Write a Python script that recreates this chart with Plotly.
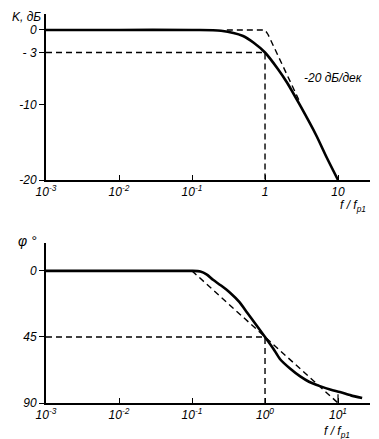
import plotly.graph_objects as go

# ---- data ----
mag_f = [0.001, 0.01, 0.1, 0.25, 0.5, 0.7, 1.0, 1.5, 2.0, 3.0, 5.0, 7.0, 10.0]
mag_db = [0, 0, 0, -0.1, -0.8, -1.7, -3.0, -5.2, -7.0, -10.0, -14.0, -17.0, -20.0]
mag_asym_f = [0.3, 1.0, 1.1, 2.9]
mag_asym_db = [0, 0, -0.6, -9.3]
mag_ref_level = -3
mag_ticks = [0, -3, -10, -20]
mag_ticktext = ["0", "- 3", "-10", "-20"]

ph_f = [0.001, 0.01, 0.05, 0.1, 0.13, 0.16, 0.194, 0.25, 0.332, 0.45, 0.567, 0.75, 1.0,
        1.3, 1.6, 2.2, 3.0, 4.0, 5.66, 8.0, 10.6, 15.0, 21.4]
ph_deg = [0, 0, 0, 0, 0.4, 2.5, 6.1, 10.0, 14.9, 21.5, 28.4, 36.5, 45,
          53.0, 60, 66.5, 71.7, 75.5, 78.5, 81.0, 82.5, 84.8, 86.6]
ph_asym_f = [0.1, 10]
ph_asym_deg = [0, 90]
ph_ref_level = 45
ph_ticks = [0, 45, 90]
ph_ticktext = ["0", "45", "90"]

f_ticks = [0.001, 0.01, 0.1, 1, 10]
f_ticktext_top = ["10<sup>-3</sup>", "10<sup>-2</sup>", "10<sup>-1</sup>", "1", "10"]
f_ticktext_bot = ["10<sup>-3</sup>", "10<sup>-2</sup>", "10<sup>-1</sup>", "10<sup>0</sup>", "10<sup>1</sup>"]

FONT = dict(family="Liberation Sans", size=12, color="black", style="italic")
SOLID = dict(color="black", width=2.6)
DASH = dict(color="black", width=1.4, dash="6px,4px")

fig = go.Figure()

# top panel
fig.add_trace(go.Scatter(x=mag_f, y=mag_db, mode="lines",
                         line=dict(SOLID, shape="spline", smoothing=0.8), xaxis="x", yaxis="y"))
fig.add_trace(go.Scatter(x=mag_asym_f, y=mag_asym_db, mode="lines", line=DASH,
                         xaxis="x", yaxis="y"))
fig.add_trace(go.Scatter(x=[f_ticks[0], 1, 1], y=[mag_ref_level, mag_ref_level, mag_ticks[-1]],
                         mode="lines", line=DASH, xaxis="x", yaxis="y"))

# bottom panel
fig.add_trace(go.Scatter(x=ph_f, y=ph_deg, mode="lines",
                         line=dict(SOLID, shape="spline", smoothing=0.6), xaxis="x2", yaxis="y2"))
fig.add_trace(go.Scatter(x=ph_asym_f, y=ph_asym_deg, mode="lines", line=DASH,
                         xaxis="x2", yaxis="y2"))
fig.add_trace(go.Scatter(x=[f_ticks[0], 1, 1], y=[ph_ref_level, ph_ref_level, ph_ticks[-1]],
                         mode="lines", line=DASH, xaxis="x2", yaxis="y2"))
fig.add_trace(go.Scatter(x=[10, 10], y=[84, 90], mode="lines",
                         line=dict(color="black", width=1.2), xaxis="x2", yaxis="y2"))

# page has an 8px body margin: work in page pixels, shift by OFF
OFF = 8
W, Hf = 379 - OFF, 439 - OFF
PL, PR, PT, PB = 46, 370, 14, 403   # plot area in page pixels
L, R, T, B = PL - OFF, W - (PR - OFF), PT - OFF, Hf - (PB - OFF)
PH = PB - PT
PW = PR - PL

def py(p):
    return (PB - p) / PH

def px(p):
    return (p - PL) / PW

axis_common = dict(showline=True, linecolor="black", linewidth=2, showgrid=False,
                   zeroline=False, tickfont=FONT, tickcolor="black")

fig.update_layout(
    width=W, height=Hf,
    margin=dict(l=L, r=R, t=T, b=B),
    paper_bgcolor="white", plot_bgcolor="white",
    showlegend=False,
    xaxis=dict(axis_common, type="log", range=[-3, 1.438], domain=[0, 1], anchor="y",
               tickvals=f_ticks, ticktext=f_ticktext_top, ticks="inside", ticklen=5, tickwidth=1.2),
    yaxis=dict(axis_common, range=[-20, 2.13], domain=[py(180), 1], anchor="x",
               tickvals=mag_ticks, ticktext=mag_ticktext, ticks="outside", ticklen=5, tickwidth=1.2),
    xaxis2=dict(axis_common, type="log", range=[-3, 1.438], domain=[0, 1], anchor="y2",
                tickvals=f_ticks, ticktext=f_ticktext_bot, ticks="inside", ticklen=5, tickwidth=1.2),
    yaxis2=dict(axis_common, range=[90, -19], domain=[0, py(243)], anchor="x2",
                tickvals=ph_ticks, ticktext=ph_ticktext, ticks="outside", ticklen=5, tickwidth=1.2),
)

fig.add_annotation(x=px(10), y=py(OFF), xref="paper", yref="paper", text="K, дБ",
                   showarrow=False, xanchor="left", yanchor="top", font=FONT)
fig.add_annotation(x=px(16), y=py(241), xref="paper", yref="paper", text="φ °",
                   showarrow=False, xanchor="left", yanchor="middle", font=dict(FONT, size=14))
fig.add_annotation(x=0.507, y=-6.4, xref="x", yref="y", text="-20 дБ/дек",
                   showarrow=False, xanchor="left", yanchor="middle", font=FONT)
fig.add_annotation(x=px(338), y=py(206), xref="paper", yref="paper", text="f / f<sub>p1</sub>",
                   showarrow=False, xanchor="left", yanchor="middle", font=FONT)
fig.add_annotation(x=px(322), y=py(432), xref="paper", yref="paper", text="f / f<sub>p1</sub>",
                   showarrow=False, xanchor="left", yanchor="middle", font=FONT)

fig.write_html("out.html")
